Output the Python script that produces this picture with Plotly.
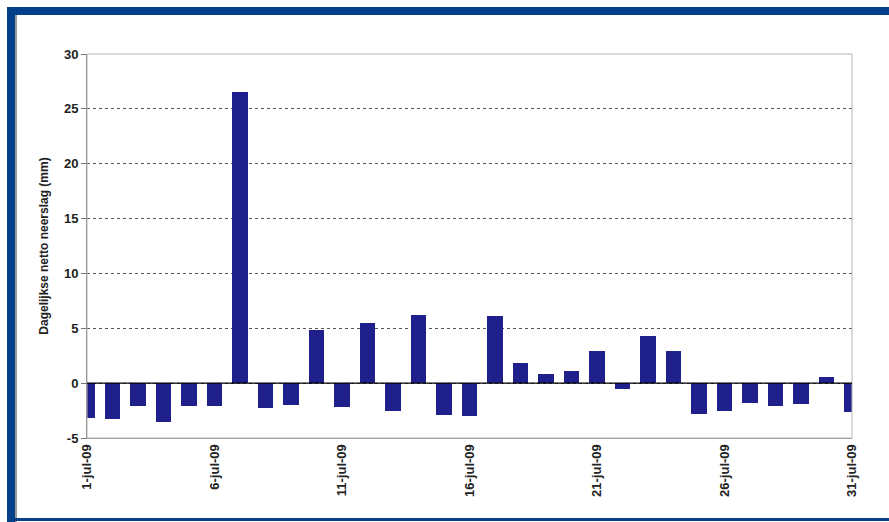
import plotly.graph_objects as go

days = list(range(1, 32))
values = [-3.2, -3.3, -2.1, -3.5, -2.1, -2.1, 26.5, -2.3, -2.0, 4.8,
          -2.2, 5.5, -2.5, 6.2, -2.9, -3.0, 6.1, 1.85, 0.8, 1.15,
          2.95, -0.5, 4.3, 2.95, -2.8, -2.5, -1.8, -2.1, -1.9, 0.6, -2.6]
tick_days = [1, 6, 11, 16, 21, 26, 31]
tick_labels = ["1-jul-09", "6-jul-09", "11-jul-09", "16-jul-09", "21-jul-09", "26-jul-09", "31-jul-09"]
y_ticks = [-5, 0, 5, 10, 15, 20, 25, 30]

W, H = 889, 522
L, R, T, B = 87, 852, 54, 438

def px(x):
    return (x - L) / (R - L)

def py(y):
    return (B - y) / (B - T)

FONT = "Liberation Sans, Arial, sans-serif"

fig = go.Figure()
fig.add_trace(go.Bar(x=days, y=values, width=0.6, marker=dict(color="#20208c", line=dict(width=0)),
                     cliponaxis=True))

blue = "#034089"
shapes = [
    dict(type="rect", xref="paper", yref="paper", x0=0, x1=1, y0=0, y1=1,
         line=dict(color="#b8b8b8", width=1), layer="above"),
    dict(type="line", xref="paper", yref="y", x0=0, x1=1, y0=0, y1=0,
         line=dict(color="#000000", width=1.2), layer="above"),
    dict(type="rect", xref="paper", yref="paper", x0=px(7), x1=px(890), y0=py(15), y1=py(7),
         fillcolor=blue, line=dict(width=0)),
    dict(type="rect", xref="paper", yref="paper", x0=px(7), x1=px(15), y0=py(523), y1=py(7),
         fillcolor=blue, line=dict(width=0)),
    dict(type="rect", xref="paper", yref="paper", x0=px(15), x1=px(17), y0=py(523), y1=py(15),
         fillcolor="#9a9a9a", line=dict(width=0)),
    dict(type="rect", xref="paper", yref="paper", x0=px(15), x1=px(890), y0=py(521), y1=py(518),
         fillcolor=blue, line=dict(width=0)),
]

fig.update_layout(
    width=W, height=H,
    margin=dict(l=L, r=W - R, t=T, b=H - B),
    paper_bgcolor="white", plot_bgcolor="white",
    showlegend=False,
    bargap=0,
    font=dict(family=FONT, size=12, color="#222222"),
    shapes=shapes,
    xaxis=dict(
        range=[1, 31], tickmode="array", tickvals=tick_days,
        ticktext=["<b>" + t + "</b>" for t in tick_labels],
        tickangle=-90, showgrid=False, zeroline=False, showline=True, linecolor="#8a8a8a",
        ticks="", ticklen=0,
        tickfont=dict(size=13, family=FONT, color="#222222"),
    ),
    yaxis=dict(
        range=[-5, 30], tickmode="array", tickvals=y_ticks,
        ticktext=["<b>" + str(v) + "</b>" for v in y_ticks],
        showgrid=True,
        gridcolor="#555555", griddash="3px,3px", gridwidth=1.2, zeroline=False,
        showline=True, linecolor="#777777", ticks="outside", ticklen=5, tickcolor="#777777",
        tickfont=dict(size=13, family=FONT, color="#222222"),
        title=dict(text="<b>Dagelijkse netto neerslag (mm)</b>", standoff=12,
                   font=dict(size=12, family=FONT, color="#222222")),
    ),
)

fig.write_html("out.html", config={"displayModeBar": False},
               post_script="document.body.style.margin='0';document.body.style.padding='0';document.body.style.overflow='hidden';")
